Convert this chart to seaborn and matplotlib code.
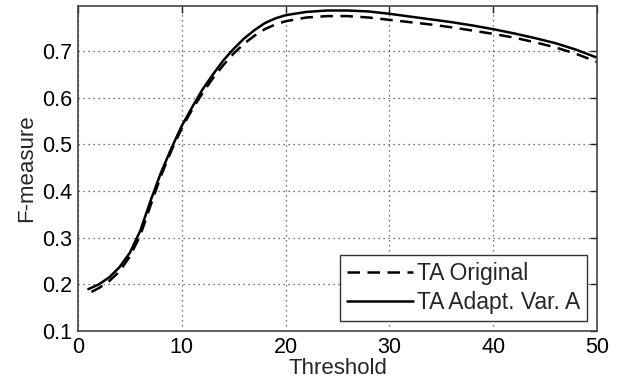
import matplotlib
matplotlib.use('Agg')

import matplotlib.pyplot as plt
import seaborn as sns
import numpy as np

# ================= DATA =================
x_adapt = [1, 2, 3, 4, 5, 6, 7, 8, 9, 10, 11, 12, 13, 14, 15, 16, 17, 18, 19, 20,
           22, 24, 26, 28, 30, 32, 34, 36, 38, 40, 42, 44, 46, 48, 50]
f_adapt = [0.190, 0.200, 0.215, 0.237, 0.268, 0.315, 0.380, 0.440, 0.492, 0.540,
           0.580, 0.618, 0.650, 0.680, 0.705, 0.727, 0.745, 0.760, 0.770, 0.777,
           0.784, 0.787, 0.787, 0.785, 0.780, 0.774, 0.768, 0.762, 0.755, 0.747,
           0.738, 0.728, 0.717, 0.703, 0.686]

x_orig = [1.3, 2, 3, 4, 5, 6, 7, 8, 9, 10, 11, 12, 13, 14, 15, 16, 17, 18, 19, 20,
          22, 24, 26, 28, 30, 32, 34, 36, 38, 40, 42, 44, 46, 48, 50]
f_orig = [0.184, 0.192, 0.207, 0.228, 0.260, 0.305, 0.370, 0.433, 0.487, 0.535,
          0.575, 0.610, 0.642, 0.670, 0.695, 0.716, 0.733, 0.747, 0.757, 0.764,
          0.772, 0.775, 0.775, 0.772, 0.767, 0.762, 0.757, 0.751, 0.744, 0.737,
          0.729, 0.719, 0.708, 0.694, 0.677]

x_ticks = [0, 10, 20, 30, 40, 50]
y_ticks = [0.1, 0.2, 0.3, 0.4, 0.5, 0.6, 0.7]

# ================= STYLE =================
sns.set_style("white")
plt.rcParams['font.family'] = ['Liberation Sans', 'DejaVu Sans']
plt.rcParams['font.size'] = 15

fig = plt.figure(figsize=(6.17, 3.9), dpi=100)
ax = fig.add_axes([0.1264, 0.151, 0.8412, 0.834])

# ================= PLOT =================
sns.lineplot(x=x_orig, y=f_orig, ax=ax, color='black', linewidth=1.8,
             linestyle=(0, (5, 3)), label='TA Original')
sns.lineplot(x=x_adapt, y=f_adapt, ax=ax, color='black', linewidth=1.8,
             label='TA Adapt. Var. A')

ax.set_xlim(0, 50)
ax.set_ylim(0.1, 0.797)
ax.set_xticks(x_ticks)
ax.set_yticks(y_ticks)
ax.set_xticklabels([str(t) for t in x_ticks])
ax.set_yticklabels([f"{t:.1f}" for t in y_ticks])

ax.grid(True, linestyle=(0, (1, 3)), color='#444444', linewidth=0.9)
ax.tick_params(direction='in', top=True, right=True, length=5, width=1,
               colors='#222222', labelsize=15.5, labelcolor='black', pad=4)
for s in ax.spines.values():
    s.set_color('#444444')
    s.set_linewidth(1.2)

ax.set_xlabel("Threshold", fontsize=16, labelpad=0)
ax.set_ylabel("F-measure", fontsize=16, labelpad=4)

leg = ax.legend(loc='lower right', fontsize=16.5, frameon=True, fancybox=False,
                edgecolor='#333333', framealpha=1, handlelength=2.9,
                handletextpad=0.15, borderpad=0.3, labelspacing=0.25,
                borderaxespad=0.45)
leg.get_frame().set_linewidth(1.0)

plt.savefig("out.png", dpi=100)
plt.close()
